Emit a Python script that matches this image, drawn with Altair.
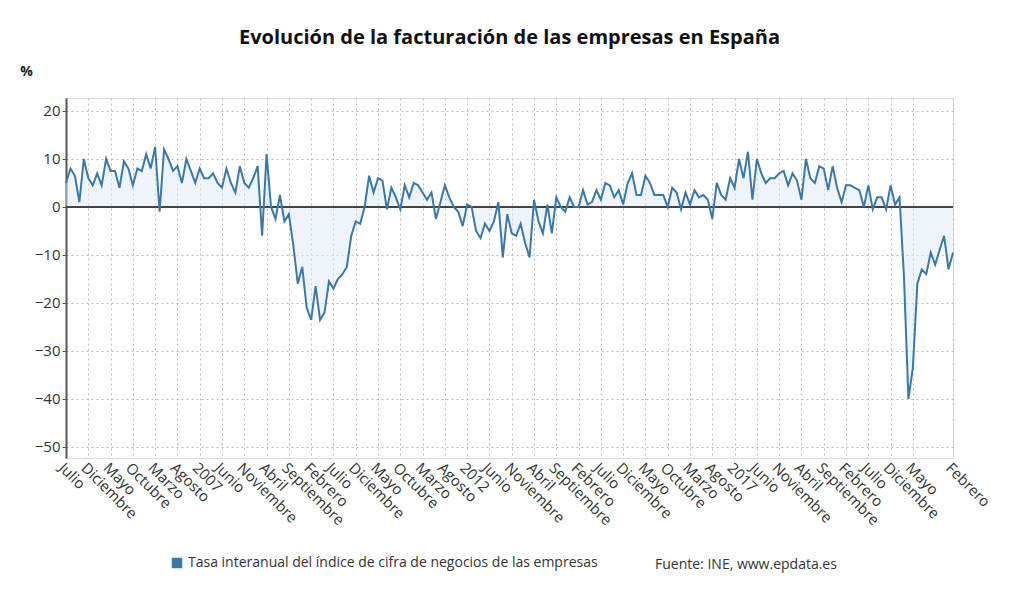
import altair as alt
import pandas as pd

values = [5,8,6.5,1,10,6,4.5,7,4.5,10,7.5,7.5,4,9.5,8,4.5,8,7.5,11,8,12.5,-1,
          12,10,7.5,8.5,5,10,7.5,5,8,6,6,7,5,4,8,5,3,8.5,5,4,6,8.5,
          -6,11,0,-2.5,2.5,-3,-1.5,-8,-16,-12.5,-21,-23.5,-16.5,-23.5,-22,-15.5,-17,-15,-14,-12.5,-6,-3,-3.5,0,6.5,
          3,6,5.5,-0.5,4,2,-0.5,4.5,2,5,4.5,3,1.5,3,-2.5,1,4.5,2,0,-1,-4,0.5,0,-5,-6.5,-3.5,-5,-3,1,-10.5,-1.5,-5.5,-6,-3.5,-7.5,-10.5,
          1.5,-3,-5.5,0.5,-5.5,2,0,-1,2,0,0,3.5,0.5,1,3.5,1.5,5,4.5,2,3.5,0.5,5,7,2.5,2.5,6.5,5,2.5,2.5,
          2.5,0,4,3,-0.5,3,0.5,3.5,2,2.5,1.5,-2.5,5,2.5,1.5,6,4,10,6,11.5,1.5,10,7,5,6,6,7,7.5,4.5,7,5.5,1.5,10,6,5,8.5,8,3.5,8.5,4,1,4.5,4.5,4,3.5,0,4.5,-0.5,2,2,-0.5,4.5,0.5,2,
          -14.5,-40,-33.5,-16,-13,-14,-9.5,-12,-9,-6,-13,-9.5]
months = ["Enero","Febrero","Marzo","Abril","Mayo","Junio","Julio","Agosto","Septiembre","Octubre","Noviembre","Diciembre"]
series_name = "Tasa interanual del índice de cifra de negocios de las empresas"
source = "Fuente: INE, www.epdata.es"

n = len(values)
labels = []
for i in range(n):
    m = (6 + i) % 12
    y = 2004 + (6 + i) // 12
    labels.append(str(y) if m == 0 else months[m])
df = pd.DataFrame({"i": list(range(n)), "v": values, "lab": labels, "s": [series_name]*n})

tick_vals = list(range(0, 191, 5)) + [n-1]
lab_expr = "{" + ",".join(f"'{i}':'{labels[i]}'" for i in tick_vals) + "}[datum.value]"

FONT = "Open Sans"
x = alt.X("i:Q", scale=alt.Scale(domain=[0, n-1], nice=False, zero=False),
          axis=alt.Axis(values=tick_vals, labelExpr=lab_expr, labelAngle=45, labelAlign="left",
                        labelBaseline="top", labelFontSize=15, labelColor="#333", title=None,
                        grid=True, gridDash=[2,3], gridColor="#bbb", domain=False, ticks=False,
                        labelOverlap=False, labelPadding=2))
yscale = alt.Scale(domain=[-52.3, 22.7], nice=False)
y = alt.Y("v:Q", scale=yscale,
          axis=alt.Axis(values=list(range(-50, 21, 10)), labelFontSize=15, labelColor="#333",
                        title="%", titleAngle=0, titleX=-40, titleY=-20, titleFontSize=14,
                        titleFontWeight="bold", titleColor="#222",
                        grid=True, gridDash=[2,3], gridColor="#bbb", domainColor="#555",
                        domainWidth=2, tickColor="#555", tickSize=4))

base = alt.Chart(df)
area = base.mark_area(color="#dfeaf5", opacity=0.5).encode(x=x, y=y, y2=alt.datum(0))
zero = alt.Chart(pd.DataFrame({"z": [0]})).mark_rule(color="#444", strokeWidth=2).encode(y=alt.Y("z:Q", scale=yscale))
line = base.mark_line(strokeWidth=2).encode(
    x=x, y=y,
    color=alt.Color("s:N", scale=alt.Scale(range=["#3a78ab"]),
                    legend=alt.Legend(title=None, orient="none", legendX=104, legendY=458,
                                      symbolType="square", symbolSize=110, labelFontSize=14,
                                      symbolFillColor="#3a78ab", symbolStrokeColor="#3a78ab",
                                      labelColor="#333", labelLimit=600, symbolStrokeWidth=0)))
src = alt.Chart(pd.DataFrame({"t": [source]})).mark_text(fontSize=14, color="#333", align="left", font=FONT).encode(
    text="t:N", x=alt.value(589), y=alt.value(467))

chart = alt.layer(area, zero, line, src).properties(
    width=887, height=360,
    title=alt.Title("Evolución de la facturación de las empresas en España", fontSize=20,
                    fontWeight="bold", color="#111", anchor="middle", offset=16, font=FONT),
    autosize=alt.AutoSizeParams(type="none"),
    padding={"left": 58, "top": 90, "right": 63, "bottom": 135}
).configure_view(stroke=None).configure(font=FONT)

chart.save("out.html", embed_options={"renderer": "svg", "actions": False})
